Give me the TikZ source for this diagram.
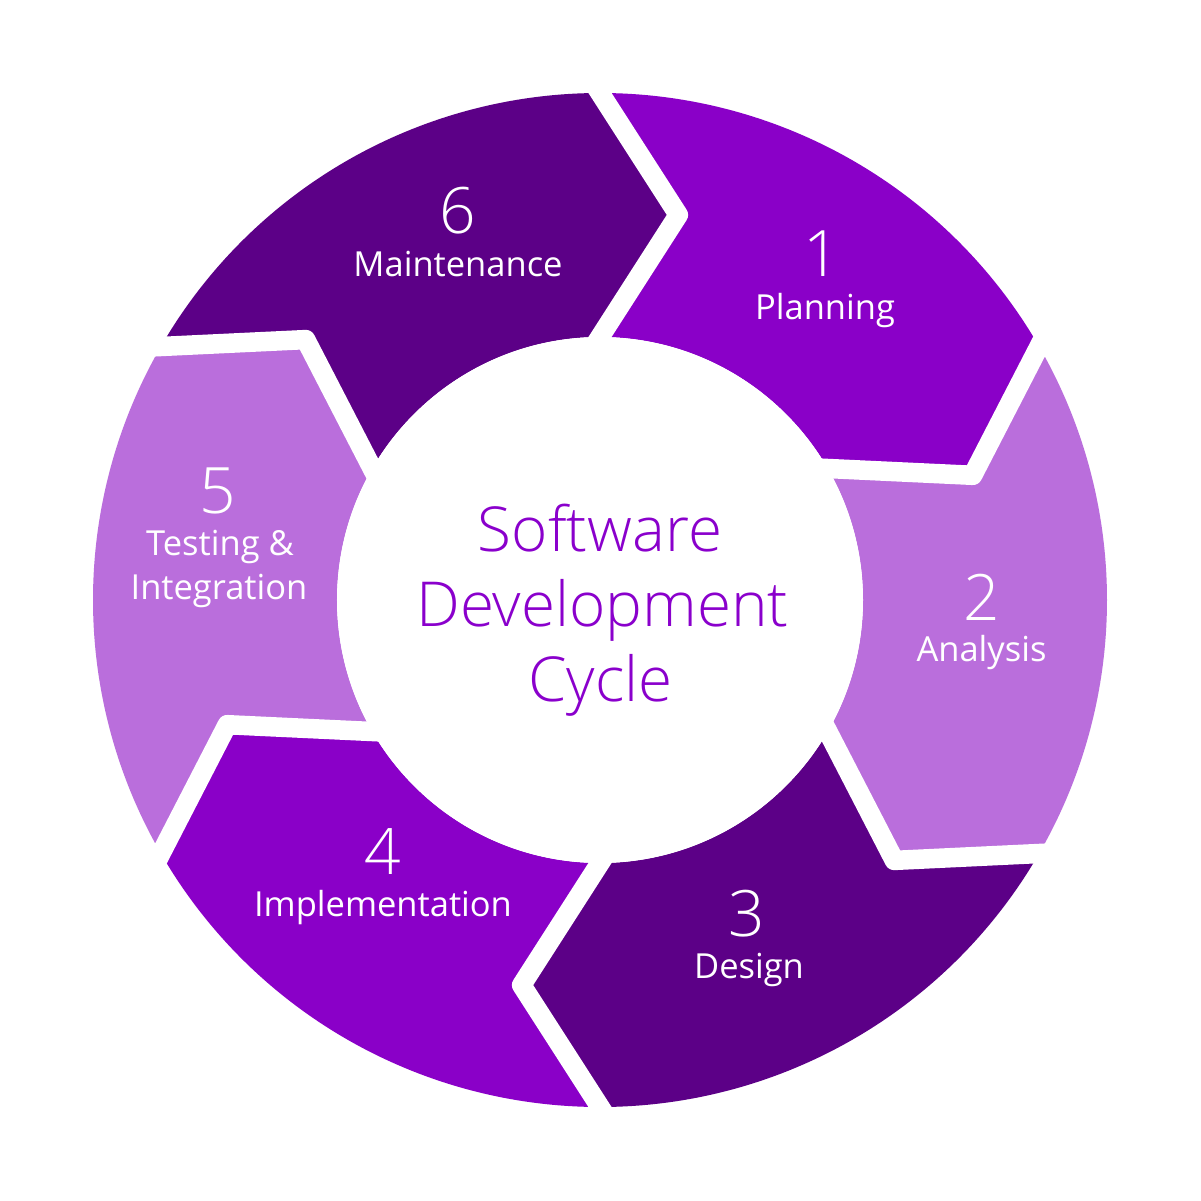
\documentclass[tikz,border=0pt]{standalone}
\usepackage{fontspec}
\setmainfont{Open Sans}
\newfontfamily\oslight{Open Sans Light}
\usetikzlibrary{calc}
\definecolor{pmid}{HTML}{8A00C8}
\definecolor{plight}{HTML}{BA6EDC}
\definecolor{pdark}{HTML}{5C0087}
\definecolor{ptext}{HTML}{8A00CC}
\begin{document}
\begin{tikzpicture}[x=1pt,y=1pt,
  gapline/.style={draw=white, line width=19.5pt, line join=round},
  numtext/.style={text=white, font=\oslight\fontsize{64}{64}\selectfont, inner sep=0pt, anchor=base},
  lbltext/.style={text=white, font=\fontsize{34.5}{44}\selectfont, inner sep=0pt, anchor=base},
  titletext/.style={text=ptext, font=\oslight\fontsize{62}{75}\selectfont, inner sep=0pt, anchor=base}]
\fill[white] (-600,-600) rectangle (601,600);
\useasboundingbox (-600,-600) rectangle (601,600);
% segments
\foreach \a/\c in {90/pmid, 30/plight, -30/pdark, -90/pmid, -150/plight, 150/pdark}{
  \fill[\c] (\a:507pt) arc[start angle=\a, end angle=\a-60, radius=507pt]
    -- ({\a-71.5}:393pt) -- ({\a-60}:263pt)
    arc[start angle=\a-60, end angle=\a, radius=263pt]
    -- ({\a-11.5}:393pt) -- cycle;
}
% white gaps
\foreach \a in {90,30,-30,-90,-150,150}{
  \draw[gapline] ($({\a-11.5}:393pt)!1.25!(\a:507pt)$) -- ({\a-11.5}:393pt) -- ($({\a-11.5}:393pt)!1.25!(\a:263pt)$);
}
\fill[white] (0,0) circle[radius=263pt];
% numbers
\node[numtext] (n1) at (221.7,323.3) {1};
\node[numtext] (n2) at (381.7,-20.7) {2};
\node[numtext] (n3) at (146.7,-336) {3};
\node[numtext] (n4) at (-217.3,-274) {4};
\node[numtext] (n5) at (-382,86.7) {5};
\node[numtext] (n6) at (-142,366) {6};
% labels
\node[lbltext] (l1) at (225,280) {Planning};
\node[lbltext] (l2) at (381.5,-61.7) {Analysis};
\node[lbltext] (l3) at (149,-378.3) {Design};
\node[lbltext] (l4) at (-217,-316.7) {Implementation};
\node[lbltext] (l5a) at (-380,45) {Testing \&};
\node[lbltext] (l5b) at (-381,0.7) {Integration};
\node[lbltext] (l6) at (-142,323.3) {Maintenance};
% title
\node[titletext] (t1) at (0,48.3) {Software};
\node[titletext] (t2) at (2.5,-26.7) {Development};
\node[titletext] (t3) at (0.5,-101.7) {Cycle};
\end{tikzpicture}
\end{document}
